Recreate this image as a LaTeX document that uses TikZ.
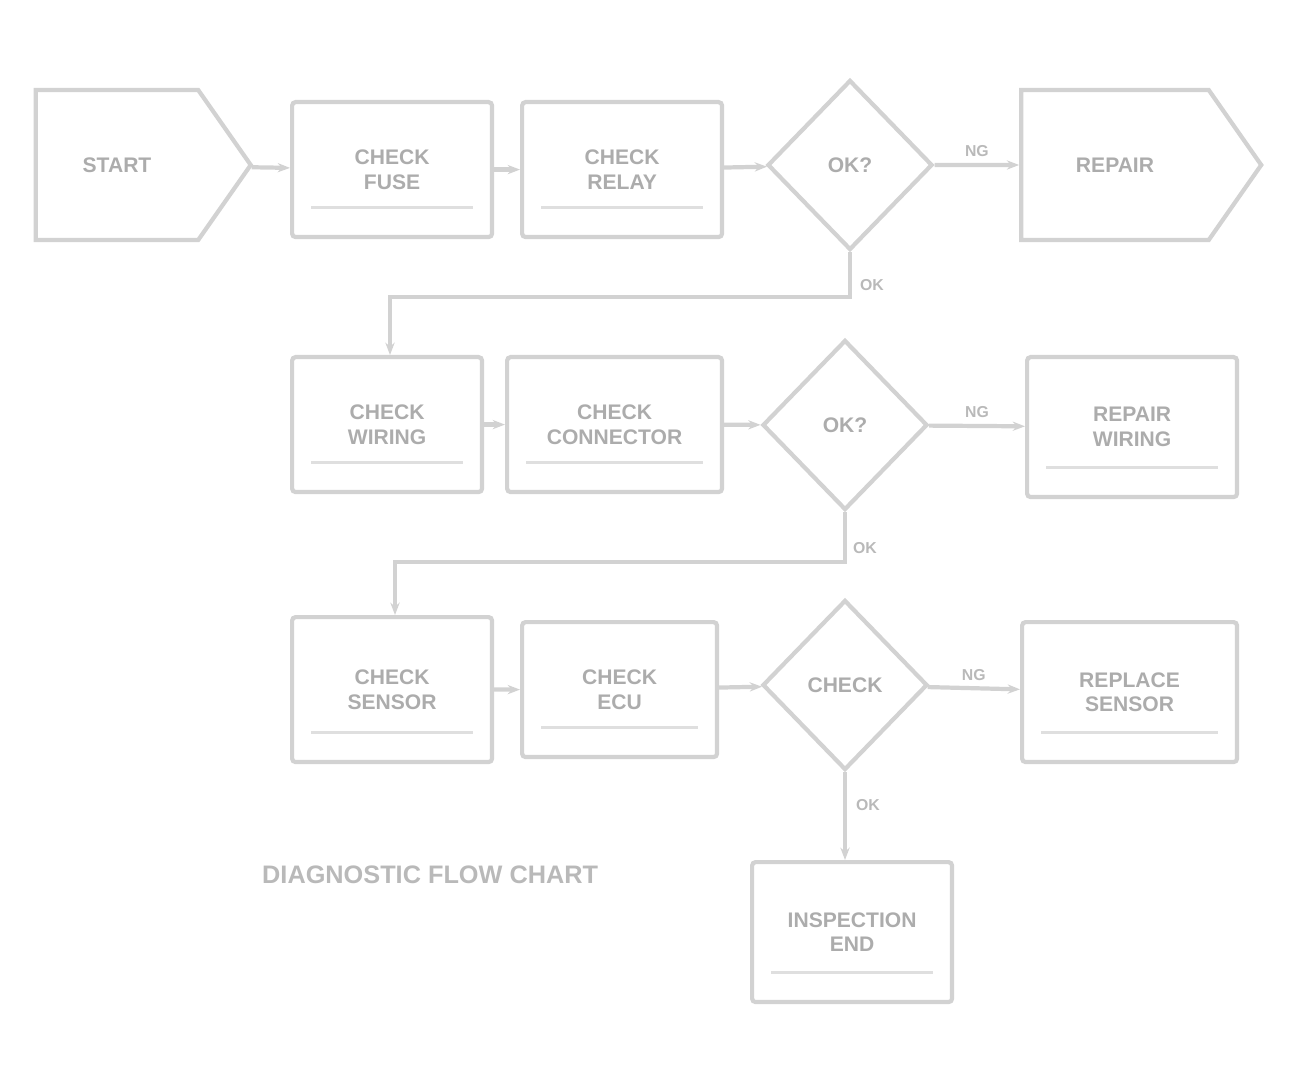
\documentclass[tikz,border=0pt]{standalone}
\usepackage{fontspec}
\setmainfont{Liberation Sans}
\usetikzlibrary{shapes.geometric,shapes.symbols,arrows.meta}
\begin{document}
\begin{tikzpicture}[x=0.02cm,y=-0.02cm,
  ln/.style={draw=gray!35,line width=2.4pt},
  stepbox/.style={ln,rectangle,rounded corners=2pt,minimum width=4cm,minimum height=2.7cm,inner sep=2pt,text=gray!65,font=\bfseries\large,align=center},
  sig/.style={ln,signal,signal to=east,signal pointer angle=110,text=gray!65,font=\bfseries\large,inner sep=2pt},
  dec/.style={ln,diamond,minimum width=3.3cm,minimum height=3.4cm,inner sep=0pt,text=gray!65,font=\bfseries\large},
  conn/.style={draw=gray!35,line width=2.4pt,-{Stealth[length=7pt]}},
  lab/.style={text=gray!55,font=\bfseries\small}
]
\useasboundingbox (0,0) rectangle (1291,1074);
% row 1
\node[sig,minimum width=4.3cm,minimum height=3cm] (a) at (117,165) {START};
\node[stepbox,anchor=north west] (b) at (290,100) {CHECK\\ FUSE};
\node[stepbox,anchor=north west] (c) at (520,100) {CHECK\\ RELAY};
\node[dec] (d1) at (850,165) {OK?};
\node[sig,minimum width=4.8cm,minimum height=3cm] (e) at (1115,165) {REPAIR};
% row 2
\node[stepbox,anchor=north west,minimum width=3.8cm] (f) at (290,355) {CHECK\\ WIRING};
\node[stepbox,anchor=north west,minimum width=4.3cm] (g) at (505,355) {CHECK\\ CONNECTOR};
\node[dec] (d2) at (845,425) {OK?};
\node[stepbox,anchor=north west,minimum width=4.2cm,minimum height=2.8cm] (h) at (1025,355) {REPAIR\\ WIRING};
% row 3
\node[stepbox,anchor=north west,minimum height=2.9cm] (i) at (290,615) {CHECK\\ SENSOR};
\node[stepbox,anchor=north west,minimum width=3.9cm] (j) at (520,620) {CHECK\\ ECU};
\node[dec] (d3) at (845,685) {CHECK};
\node[stepbox,anchor=north west,minimum width=4.3cm,minimum height=2.8cm] (k) at (1020,620) {REPLACE\\ SENSOR};
% end
\node[stepbox,anchor=north west,minimum width=4cm,minimum height=2.8cm] (l) at (750,860) {INSPECTION\\ END};
\node[lab,anchor=west,font=\bfseries\Large] (note) at (256,875) {DIAGNOSTIC FLOW CHART};
% inner strips
\foreach \n in {b,c,f,g,i,j,h,k,l}{
  \draw[draw=gray!25,line width=1.5pt] ([xshift=12pt,yshift=18pt]\n.south west) -- ([xshift=-12pt,yshift=18pt]\n.south east);
}
% connectors
\draw[conn] (a) -- (b);
\draw[conn] (b) -- (c);
\draw[conn] (c) -- (d1);
\draw[conn] (d1) -- node[lab,above] {NG} (e);
\draw[conn] (d1.south) -- (850,297) -| (f.north -| 390,0);
\node[lab] (ok1) at (872,285) {OK};
\draw[conn] (f) -- (g);
\draw[conn] (g) -- (d2);
\draw[conn] (d2) -- node[lab,above] {NG} (h);
\draw[conn] (d2.south) -- (845,562) -| (i.north -| 395,0);
\node[lab] (ok2) at (865,548) {OK};
\draw[conn] (i) -- (j);
\draw[conn] (j) -- (d3);
\draw[conn] (d3) -- node[lab,above] {NG} (k);
\draw[conn] (d3.south) -- (l.north -| d3.south);
\node[lab] (ok3) at (868,805) {OK};
\end{tikzpicture}
\end{document}
